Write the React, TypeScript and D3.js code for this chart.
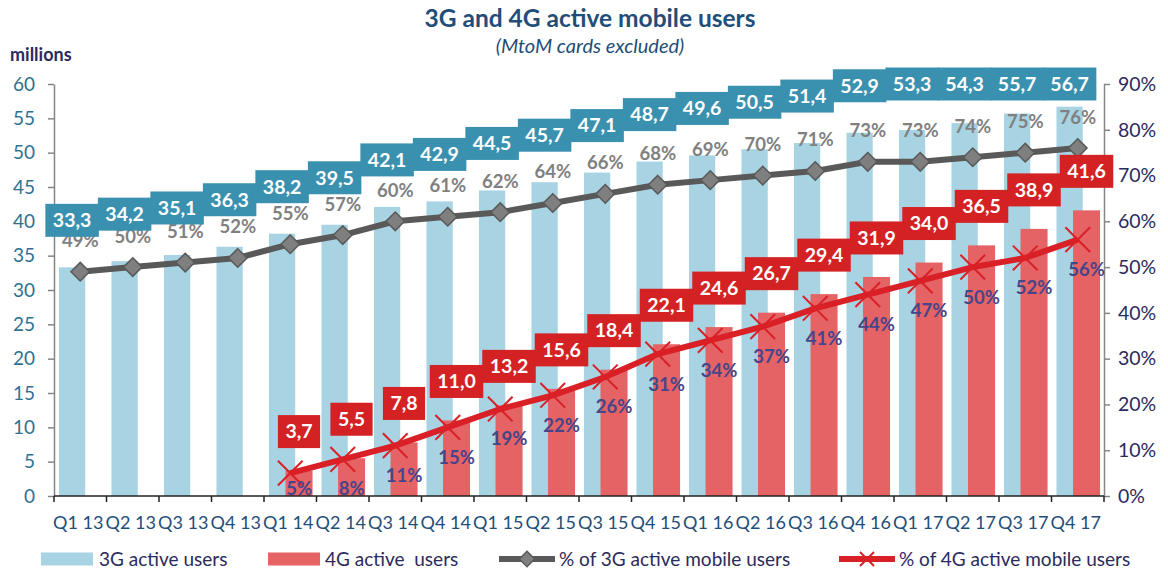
import React, { useEffect, useRef } from 'react';
import * as d3 from 'd3';

// quarters shown on the x axis
const quarters = [
  'Q1 13', 'Q2 13', 'Q3 13', 'Q4 13',
  'Q1 14', 'Q2 14', 'Q3 14', 'Q4 14',
  'Q1 15', 'Q2 15', 'Q3 15', 'Q4 15',
  'Q1 16', 'Q2 16', 'Q3 16', 'Q4 16',
  'Q1 17', 'Q2 17', 'Q3 17', 'Q4 17',
];

// millions of users
const users3G = [33.3, 34.2, 35.1, 36.3, 38.2, 39.5, 42.1, 42.9, 44.5, 45.7, 47.1, 48.7, 49.6, 50.5, 51.4, 52.9, 53.3, 54.3, 55.7, 56.7];
const users4G = [null, null, null, null, 3.7, 5.5, 7.8, 11.0, 13.2, 15.6, 18.4, 22.1, 24.6, 26.7, 29.4, 31.9, 34.0, 36.5, 38.9, 41.6];

// share of active mobile users, %
const share3G = [49, 50, 51, 52, 55, 57, 60, 61, 62, 64, 66, 68, 69, 70, 71, 73, 73, 74, 75, 76];
const share4G = [null, null, null, null, 5, 8, 11, 15, 19, 22, 26, 31, 34, 37, 41, 44, 47, 50, 52, 56];

const leftTicks = d3.range(0, 61, 5);
const rightTicks = d3.range(0, 91, 10);

const FONT = "Lato, 'Open Sans', sans-serif";
const C = {
  bar3G: '#A7D3E3',
  bar4G: '#E56364',
  box3G: '#3A91AF',
  box4G: '#D42123',
  line3G: '#595959',
  marker3G: '#7F7F7F',
  line4G: '#DA2027',
  pct3G: '#808080',
  pct4G: '#45458A',
  title: '#1F4E79',
  leftTick: '#2F7290',
  navy: '#2B2A5C',
};

const W = 1168;
const H = 572;

const App: React.FC = () => {
  const svgRef = useRef<SVGSVGElement>(null);

  useEffect(() => {
    if (!svgRef.current) return;
    const svg = d3.select(svgRef.current);
    svg.selectAll('*').remove();
    svg.style('font-family', FONT);

    const comma = d3.formatLocale({ decimal: ',', thousands: '.', grouping: [3], currency: ['', ''] }).format('.1f');

    const x = d3.scaleBand<string>().domain(quarters).range([54, 1104]).padding(0);
    const bw = x.bandwidth();
    const yL = d3.scaleLinear().domain([0, 60]).range([496, 84]);
    const yR = d3.scaleLinear().domain([0, 90]).range([496, 84]);

    // title
    svg.append('text')
      .attr('x', 590).attr('y', 27)
      .attr('text-anchor', 'middle')
      .attr('font-size', 24.5).attr('font-weight', 700)
      .attr('fill', C.title)
      .text('3G and 4G active mobile users');
    svg.append('text')
      .attr('x', 590).attr('y', 53)
      .attr('text-anchor', 'middle')
      .attr('font-size', 20).attr('font-style', 'italic')
      .attr('fill', C.title)
      .text('(MtoM cards excluded)');
    svg.append('text')
      .attr('x', 10).attr('y', 61)
      .attr('font-size', 18).attr('font-weight', 700)
      .attr('fill', C.navy)
      .text('millions');

    // bars
    const bars = svg.append('g');
    bars.selectAll('rect.b3')
      .data(users3G)
      .join('rect')
      .attr('class', 'b3')
      .attr('x', (_, i) => x(quarters[i])! + bw * 0.095)
      .attr('width', bw * 0.5)
      .attr('y', d => yL(d))
      .attr('height', d => yL(0) - yL(d))
      .attr('fill', C.bar3G);
    bars.selectAll('rect.b4')
      .data(users4G.map((v, i) => ({ v, i })).filter(d => d.v != null))
      .join('rect')
      .attr('class', 'b4')
      .attr('x', d => x(quarters[d.i])! + bw * 0.41)
      .attr('width', bw * 0.515)
      .attr('y', d => yL(d.v as number))
      .attr('height', d => yL(0) - yL(d.v as number))
      .attr('fill', C.bar4G);

    // axes
    const left = svg.append('g')
      .attr('transform', `translate(${x.range()[0]},0)`)
      .call(d3.axisLeft(yL).tickValues(leftTicks).tickSize(6).tickSizeOuter(0).tickPadding(13));
    left.select('.domain').attr('stroke', '#868686').attr('stroke-width', 1.5);
    left.selectAll('.tick line').attr('stroke', '#868686').attr('stroke-width', 1.5);
    left.selectAll('.tick text').attr('fill', C.leftTick).attr('font-size', 19).attr('font-family', FONT);

    const right = svg.append('g')
      .attr('transform', `translate(${x.range()[1]},0)`)
      .call(d3.axisRight(yR).tickValues(rightTicks).tickFormat(d => `${d}%`).tickSize(6).tickSizeOuter(0).tickPadding(8));
    right.select('.domain').attr('stroke', '#868686').attr('stroke-width', 1.5);
    right.selectAll('.tick line').attr('stroke', '#868686').attr('stroke-width', 1.5);
    right.selectAll('.tick text').attr('fill', C.navy).attr('font-size', 19.5).attr('font-family', FONT);

    const bottom = svg.append('g');
    bottom.append('line')
      .attr('x1', x.range()[0]).attr('x2', x.range()[1])
      .attr('y1', yL(0)).attr('y2', yL(0))
      .attr('stroke', '#222').attr('stroke-width', 1.5);
    bottom.selectAll('line.tk')
      .data([...quarters.map(q => x(q)!), x.range()[1]])
      .join('line')
      .attr('class', 'tk')
      .attr('x1', d => d).attr('x2', d => d)
      .attr('y1', yL(0)).attr('y2', yL(0) + 6)
      .attr('stroke', '#222').attr('stroke-width', 1.5);
    bottom.selectAll('text')
      .data(quarters)
      .join('text')
      .attr('x', d => x(d)! + bw / 2 - 2)
      .attr('y', 529)
      .attr('text-anchor', 'middle')
      .attr('font-size', 18)
      .attr('fill', C.title)
      .text(d => d);

    // lines
    const cx = (i: number) => x(quarters[i])! + bw / 2;
    const line = d3.line<{ v: number; i: number }>().x(d => cx(d.i)).y(d => yR(d.v));
    const pts3 = share3G.map((v, i) => ({ v, i }));
    const pts4 = share4G.map((v, i) => ({ v: v as number, i })).filter(d => d.v != null);

    svg.append('path')
      .datum(pts3)
      .attr('d', line)
      .attr('fill', 'none')
      .attr('stroke', C.line3G)
      .attr('stroke-width', 6);
    svg.append('g').selectAll('path')
      .data(pts3)
      .join('path')
      .attr('d', d3.symbol(d3.symbolDiamond2, 220))
      .attr('transform', d => `translate(${cx(d.i)},${yR(d.v)})`)
      .attr('fill', C.marker3G)
      .attr('stroke', C.line3G)
      .attr('stroke-width', 1.5);

    svg.append('path')
      .datum(pts4)
      .attr('d', line)
      .attr('fill', 'none')
      .attr('stroke', C.line4G)
      .attr('stroke-width', 6);
    svg.append('g').selectAll('path')
      .data(pts4)
      .join('path')
      .attr('d', d3.symbol(d3.symbolX, 400))
      .attr('transform', d => `translate(${cx(d.i)},${yR(d.v)})`)
      .attr('fill', 'none')
      .attr('stroke', C.line4G)
      .attr('stroke-width', 2);

    // % labels
    svg.append('g').selectAll('text')
      .data(pts3)
      .join('text')
      .attr('x', d => cx(d.i))
      .attr('y', d => yR(d.v) - 31)
      .attr('dy', '0.35em')
      .attr('text-anchor', 'middle')
      .attr('font-size', 18.5).attr('font-weight', 700)
      .attr('fill', C.pct3G)
      .text(d => `${d.v}%`);
    svg.append('g').selectAll('text')
      .data(pts4)
      .join('text')
      .attr('x', d => x(quarters[d.i])! + bw * 0.67)
      .attr('y', d => Math.min(yR(d.v) + 30, yL(0) - 7))
      .attr('dy', '0.35em')
      .attr('text-anchor', 'middle')
      .attr('font-size', 18.5).attr('font-weight', 700)
      .attr('fill', C.pct4G)
      .text(d => `${d.v}%`);

    // boxed value labels
    const boxLabel = (g: any, cxv: number, cyv: number, txt: string, fill: string) => {
      const r = g.append('rect');
      const t = g.append('text')
        .attr('x', cxv).attr('y', cyv)
        .attr('dy', '0.35em')
        .attr('text-anchor', 'middle')
        .attr('font-size', 19.5).attr('font-weight', 700)
        .attr('fill', '#fff')
        .text(txt);
      const w = (t.node() as SVGTextElement).getComputedTextLength() + 15;
      r.attr('x', cxv - w / 2).attr('y', cyv - 16.5)
        .attr('width', w).attr('height', 33)
        .attr('fill', fill);
    };

    const lab3 = svg.append('g');
    users3G.forEach((v, i) => {
      const g = lab3.append('g');
      boxLabel(g, x(quarters[i])! + bw * 0.345, Math.max(yL(v) - 47, 84), comma(v), C.box3G);
    });
    const lab4 = svg.append('g');
    users4G.forEach((v, i) => {
      if (v == null) return;
      const g = lab4.append('g');
      boxLabel(g, x(quarters[i])! + bw * 0.667, yL(v) - 39, comma(v), C.box4G);
    });

    // legend
    const lg = svg.append('g').attr('font-size', 19).attr('fill', C.navy);
    const ly = 559;
    lg.append('rect').attr('x', 41).attr('y', ly - 6.5).attr('width', 52).attr('height', 13).attr('fill', C.bar3G);
    lg.append('text').attr('x', 99).attr('y', ly).attr('dy', '0.35em').text('3G active users');
    lg.append('rect').attr('x', 268).attr('y', ly - 6.5).attr('width', 52).attr('height', 13).attr('fill', C.bar4G);
    lg.append('text').attr('x', 325).attr('y', ly).attr('dy', '0.35em').style('white-space', 'pre').text('4G active  users');
    lg.append('line').attr('x1', 499).attr('x2', 555).attr('y1', ly).attr('y2', ly)
      .attr('stroke', C.line3G).attr('stroke-width', 6);
    lg.append('path').attr('d', d3.symbol(d3.symbolDiamond2, 150))
      .attr('transform', `translate(527,${ly})`)
      .attr('fill', C.marker3G).attr('stroke', C.line3G).attr('stroke-width', 1.5);
    lg.append('text').attr('x', 559).attr('y', ly).attr('dy', '0.35em').text('% of 3G active mobile users');
    lg.append('line').attr('x1', 839).attr('x2', 895).attr('y1', ly).attr('y2', ly)
      .attr('stroke', C.line4G).attr('stroke-width', 6);
    lg.append('path').attr('d', d3.symbol(d3.symbolX, 130))
      .attr('transform', `translate(867,${ly})`)
      .attr('fill', 'none').attr('stroke', C.line4G).attr('stroke-width', 2);
    lg.append('text').attr('x', 899).attr('y', ly).attr('dy', '0.35em').text('% of 4G active mobile users');
  }, []);

  return (
    <svg
      ref={svgRef}
      width={W}
      height={H}
      style={{ position: 'absolute', left: 0, top: 0, background: '#fff' }}
    />
  );
};

export default App;
